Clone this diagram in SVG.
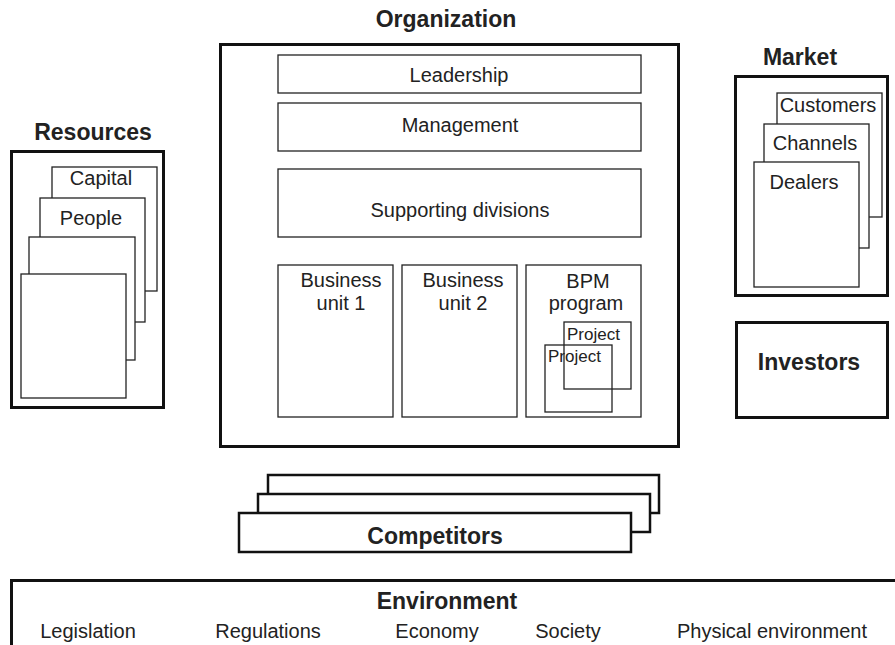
<svg xmlns="http://www.w3.org/2000/svg" width="895" height="645" viewBox="0 0 895 645">
<style>
  .thick{fill:#fff;stroke:#111;stroke-width:3}
  .thin{fill:#fff;stroke:#222;stroke-width:1.3}
  .open{fill:none;stroke:#222;stroke-width:1.3}
  .mid{fill:#fff;stroke:#111;stroke-width:2.5}
  .title{font-family:"Liberation Sans",Arial,sans-serif;font-weight:bold;font-size:23px;fill:#222;text-anchor:middle}
  .lbl{font-family:"Liberation Sans",Arial,sans-serif;font-size:20px;fill:#222;text-anchor:middle}
  .sm{font-family:"Liberation Sans",Arial,sans-serif;font-size:17px;fill:#222}
</style>
<rect width="895" height="645" fill="#fff"/>

<g id="organization">
  <text class="title" x="446" y="27">Organization</text>
  <rect class="thick" x="220.5" y="44.5" width="458" height="402"/>
  <g id="leadership">
    <rect class="thin" x="278" y="55" width="363" height="38"/>
    <text class="lbl" x="459" y="82">Leadership</text>
  </g>
  <g id="management">
    <rect class="thin" x="278" y="103" width="363" height="48"/>
    <text class="lbl" x="460" y="132">Management</text>
  </g>
  <g id="supporting">
    <rect class="thin" x="278" y="169" width="363" height="68"/>
    <text class="lbl" x="460" y="217">Supporting divisions</text>
  </g>
  <g id="bu1">
    <rect class="thin" x="278" y="265" width="115" height="152"/>
    <text class="lbl" x="341" y="287">Business</text>
    <text class="lbl" x="341" y="310">unit 1</text>
  </g>
  <g id="bu2">
    <rect class="thin" x="402" y="265" width="115" height="152"/>
    <text class="lbl" x="463" y="287">Business</text>
    <text class="lbl" x="463" y="310">unit 2</text>
  </g>
  <g id="bpm">
    <rect class="thin" x="526" y="265" width="115" height="152"/>
    <text class="lbl" x="588" y="288">BPM</text>
    <text class="lbl" x="586" y="310">program</text>
    <g id="project1">
      <rect class="thin" x="564" y="322" width="67" height="67"/>
      <text class="sm" x="567" y="340">Project</text>
    </g>
    <g id="project2">
      <rect class="open" x="545" y="345" width="67" height="67"/>
      <text class="sm" x="548" y="362">Project</text>
    </g>
  </g>
</g>

<g id="resources">
  <text class="title" x="93" y="140">Resources</text>
  <rect class="thick" x="11.5" y="151.5" width="152" height="256"/>
  <rect class="thin" x="52" y="167" width="105" height="124"/>
  <text class="lbl" x="101" y="185">Capital</text>
  <rect class="thin" x="40" y="198" width="105" height="124"/>
  <text class="lbl" x="91" y="225">People</text>
  <rect class="thin" x="29" y="237" width="106" height="123"/>
  <rect class="thin" x="21" y="274" width="105" height="124"/>
</g>

<g id="market">
  <text class="title" x="800" y="65">Market</text>
  <rect class="thick" x="735.5" y="76.5" width="152" height="219"/>
  <rect class="thin" x="777" y="93" width="105" height="124"/>
  <text class="lbl" x="828" y="112">Customers</text>
  <rect class="thin" x="764" y="124" width="105" height="124"/>
  <text class="lbl" x="815" y="150">Channels</text>
  <rect class="thin" x="754" y="162" width="105" height="125"/>
  <text class="lbl" x="804" y="189">Dealers</text>
</g>

<g id="investors">
  <rect class="thick" x="736.5" y="322.5" width="151" height="95"/>
  <text class="title" x="809" y="370">Investors</text>
</g>

<g id="competitors">
  <rect class="mid" x="268" y="475" width="391" height="38"/>
  <rect class="mid" x="258" y="494" width="392" height="38"/>
  <rect class="mid" x="239" y="513" width="392" height="39"/>
  <text class="title" x="435" y="544">Competitors</text>
</g>

<g id="environment">
  <rect class="thick" x="11.5" y="580.5" width="900" height="80"/>
  <text class="title" x="447" y="609">Environment</text>
  <text class="lbl" x="88" y="638">Legislation</text>
  <text class="lbl" x="268" y="638">Regulations</text>
  <text class="lbl" x="437" y="638">Economy</text>
  <text class="lbl" x="568" y="638">Society</text>
  <text class="lbl" x="772" y="638">Physical environment</text>
</g>

<g id="connectors"></g>
</svg>
